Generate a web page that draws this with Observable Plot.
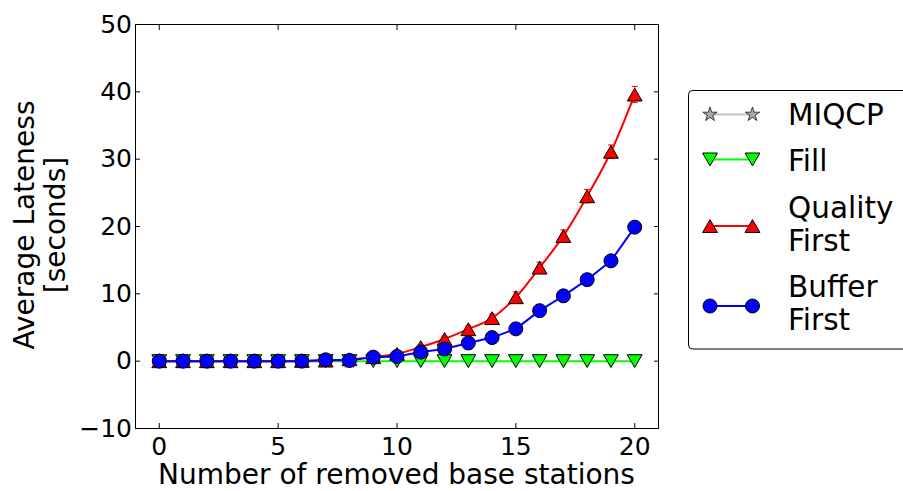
<!DOCTYPE html>
<html>
<head>
<meta charset="utf-8">
<script src="https://cdn.jsdelivr.net/npm/d3@7"></script>
<script src="https://cdn.jsdelivr.net/npm/@observablehq/plot@0.6"></script>
<style>
  html, body { margin: 0; padding: 0; background: #fff; }
  #chart { position: relative; width: 903px; height: 491px; }
</style>
</head>
<body>
<div id="chart"></div>
<script>
// ---- data ----
const removed = [0,1,2,3,4,5,6,7,8,9,10,11,12,13,14,15,16,17,18,19,20];
const miqcpX = [0,1,2,3,4,5,6,7,8];
const miqcp = [0,0,0,0,0,0,0,0,0];
const fill = [0,0,0,0,0,0,0,0,0,0,0,0,0,0,0,0,0,0,0,0,0];
const qualityFirst = [0,0,0,0,0,0,0.05,0.1,0.3,0.6,1.1,2.1,3.3,4.75,6.4,9.5,13.9,18.6,24.5,31.1,39.6];
const qualityErr = [0.1,0.1,0.1,0.1,0.1,0.1,0.1,0.1,0.2,0.2,0.2,0.3,0.4,0.5,0.6,0.8,0.8,0.9,1.0,1.0,1.2];
const bufferFirst = [0,0,0,0,0,0,0,0.2,0.1,0.6,0.7,1.35,1.8,2.7,3.5,4.8,7.5,9.7,12.1,14.9,19.9];
const xTicks = [0,5,10,15,20];
const yTicks = [-10,0,10,20,30,40,50];
const seriesNames = ["MIQCP","Fill","Quality\nFirst","Buffer\nFirst"];
const xLabel = "Number of removed base stations";
const yLabel = ["Average Lateness","[seconds]"];

// ---- tables ----
const miqcpData = miqcpX.map((x,i)=>({x, y: miqcp[i]}));
const fillData = removed.map((x,i)=>({x, y: fill[i]}));
const qfData = removed.map((x,i)=>({x, y: qualityFirst[i], e: qualityErr[i]}));
const bfData = removed.map((x,i)=>({x, y: bufferFirst[i]}));

const FONT = "DejaVu Sans, Liberation Sans, sans-serif";
const capSymbol = { draw(ctx) { ctx.moveTo(-3,0); ctx.lineTo(3,0); } };
const triR = 5.5, triShift = 2.2;

const chart = Plot.plot({
  width: 903, height: 491,
  marginLeft: 135, marginRight: 245, marginTop: 24, marginBottom: 63,
  style: { fontFamily: FONT, fontSize: "25px", background: "#fff", color: "#000" },
  x: { domain: [-1, 21] },
  y: { domain: [-10, 50] },
  marks: [
    // MIQCP
    Plot.line(miqcpData, {x: "x", y: "y", stroke: "#c0c0c0", strokeWidth: 2}),
    Plot.dot(miqcpData, {x: "x", y: "y", symbol: "star", r: 4.5, fill: "#a8a8a8", stroke: "#000", strokeWidth: 0.7}),
    // Fill
    Plot.line(fillData, {x: "x", y: "y", stroke: "#00ff00", strokeWidth: 2}),
    Plot.dot(fillData, {x: "x", y: "y", symbol: "triangle", rotate: 180, dy: -triShift, r: triR, fill: "#00ff00", stroke: "#000", strokeWidth: 1}),
    // Quality First
    Plot.ruleX(qfData, {x: "x", y1: d => d.y - d.e, y2: d => d.y + d.e, stroke: "#ff0000", strokeWidth: 1}),
    Plot.dot(qfData, {x: "x", y: d => d.y + d.e, symbol: capSymbol, r: 3, stroke: "#ff0000", fill: "none", strokeWidth: 1}),
    Plot.dot(qfData, {x: "x", y: d => d.y - d.e, symbol: capSymbol, r: 3, stroke: "#ff0000", fill: "none", strokeWidth: 1}),
    Plot.line(qfData, {x: "x", y: "y", stroke: "#ff0000", strokeWidth: 2, curve: "monotone-x"}),
    Plot.dot(qfData, {x: "x", y: "y", symbol: "triangle", dy: triShift, r: triR, fill: "#ff0000", stroke: "#000", strokeWidth: 1}),
    // Buffer First
    Plot.line(bfData, {x: "x", y: "y", stroke: "#0000ff", strokeWidth: 2}),
    Plot.dot(bfData, {x: "x", y: "y", symbol: "circle", r: 7, fill: "#0000ff", stroke: "#000", strokeWidth: 1}),
    // axes
    Plot.axisX({ticks: xTicks, tickSize: -5, tickPadding: 13.5, fontSize: 25, label: null, anchor: "bottom"}),
    Plot.axisX({ticks: xTicks, tickSize: -5, anchor: "top", tickFormat: () => "", label: null}),
    Plot.axisY({ticks: yTicks, tickSize: -5, tickPadding: 8.5, fontSize: 25, label: null, anchor: "left"}),
    Plot.axisY({ticks: yTicks, tickSize: -5, anchor: "right", tickFormat: () => "", label: null}),
    Plot.frame({stroke: "#000", strokeWidth: 1})
  ]
});

document.getElementById("chart").appendChild(chart);

// ---- axis labels & legend ----
const svg = d3.select(chart);
svg.append("text")
  .attr("x", 396.5).attr("y", 484)
  .attr("text-anchor", "middle")
  .attr("font-family", FONT).attr("font-size", 28).attr("fill", "#000")
  .text(xLabel);

const yl = svg.append("g").attr("font-family", FONT).attr("font-size", 28).attr("fill", "#000");
[33.5, 64.5].forEach((bx, i) => {
  yl.append("text")
    .attr("transform", `translate(${bx},225) rotate(-90)`)
    .attr("text-anchor", "middle")
    .text(yLabel[i]);
});

const lg = svg.append("g").attr("font-family", FONT).attr("font-size", 29.5).attr("fill", "#000").attr("text-anchor", "start");
lg.append("rect")
  .attr("x", 688.5).attr("y", 90.5).attr("width", 260).attr("height", 258.5)
  .attr("rx", 4).attr("fill", "#fff").attr("stroke", "#000").attr("stroke-width", 1);

const legendItems = [
  { line: "#c0c0c0", fill: "#a8a8a8", sym: d3.symbolStar, r: 4.5, rot: 0, sw: 0.7, ly: 114.5, tys: [125] },
  { line: "#00ff00", fill: "#00ff00", sym: d3.symbolTriangle, r: triR, rot: 180, sw: 1, ly: 159.5, tys: [170.5] },
  { line: "#ff0000", fill: "#ff0000", sym: d3.symbolTriangle, r: triR, rot: 0, sw: 1, ly: 226, tys: [218, 250.5] },
  { line: "#0000ff", fill: "#0000ff", sym: d3.symbolCircle, r: 7, rot: 0, sw: 1, ly: 306, tys: [297, 330] }
];
legendItems.forEach((it, i) => {
  lg.append("line").attr("x1", 710).attr("x2", 752.5).attr("y1", it.ly).attr("y2", it.ly)
    .attr("stroke", it.line).attr("stroke-width", 2);
  const shift = it.sym === d3.symbolTriangle ? (it.rot ? -triShift : triShift) : 0;
  [710, 752.5].forEach(mx => {
    lg.append("path")
      .attr("d", d3.symbol(it.sym, Math.PI * it.r * it.r)())
      .attr("transform", `translate(${mx},${it.ly + shift}) rotate(${it.rot})`)
      .attr("fill", it.fill).attr("stroke", "#000").attr("stroke-width", it.sw);
  });
  const lines = seriesNames[i].split("\n");
  lines.forEach((t, j) => {
    lg.append("text").attr("x", 788).attr("y", it.tys[j]).attr("text-anchor", "start").text(t);
  });
});
</script>
</body>
</html>
